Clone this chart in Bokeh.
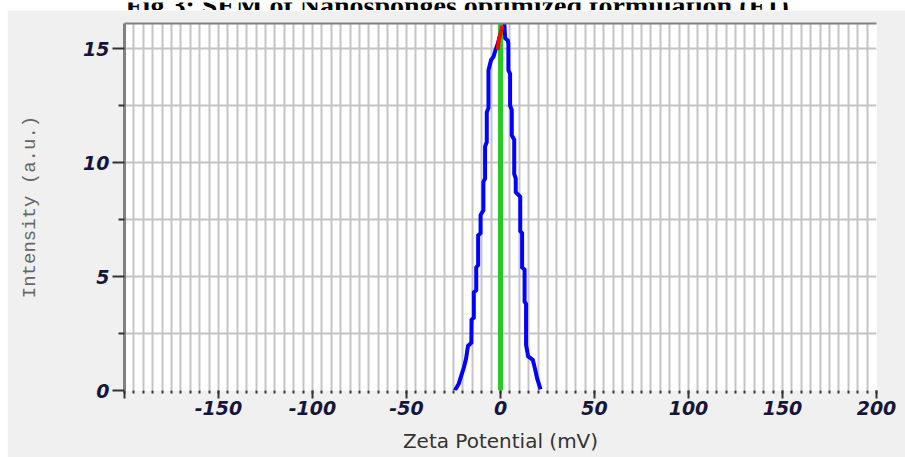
from bokeh.plotting import figure
from bokeh.models import Range1d, FixedTicker, LinearAxis, Label
from bokeh.layouts import column
from bokeh.embed import file_html
from bokeh.resources import INLINE

# ---------------- data ----------------
curve_x = [-24.3, -22.2, -20.7, -19.5, -18.3, -17.3, -15.5, -15.4, -14.2, -14.2,
           -12.9, -12.9, -11.9, -11.9, -10.6, -10.6, -9.1, -9.1, -8.2, -8.2,
           -7.3, -7.3, -6.4, -6.4, -5.0, -3.7, -2.8, -1.1, 1.0, 2.1,
           2.5, 3.9, 4.2, 4.2, 5.1, 5.1, 6.0, 6.0, 7.3, 7.3,
           8.1, 8.1, 10.5, 10.5, 11.5, 11.5, 12.8, 12.8, 13.6, 13.6,
           14.7, 17.2, 18.3, 19.5, 21.3]
curve_y = [0.0, 0.3, 0.7, 1.0, 1.4, 1.95, 2.1, 3.1, 3.2, 4.3,
           4.4, 5.4, 5.5, 6.8, 6.9, 7.7, 7.9, 9.15, 9.3, 10.7,
           10.9, 12.2, 12.4, 14.05, 14.5, 14.65, 14.9, 15.3, 16.0, 16.0,
           15.45, 15.35, 15.2, 14.05, 13.9, 12.5, 12.3, 11.2, 11.0, 9.5,
           9.3, 8.7, 8.5, 7.0, 6.9, 5.4, 5.3, 3.9, 3.8, 2.0,
           1.5, 1.34, 0.97, 0.53, 0.05]
peak_x = [-1.4, -1.1, 1.0]
peak_y = [14.95, 15.3, 16.0]
zero_x = [0, 0]
zero_y = [0, 16.1]

x_ticks = [-200, -150, -100, -50, 0, 50, 100, 150, 200]
x_tick_labels = ["", "-150", "-100", "-50", "0", "50", "100", "150", "200"]
x_minor_ticks = list(range(-200, 201, 5))
y_ticks = [0, 5, 10, 15]
y_tick_labels = ["0", "5", "10", "15"]
y_minor_ticks = [2.5, 7.5, 12.5]
y_grid_ticks = [2.5, 5, 7.5, 10, 12.5, 15]

title_text = "Fig.3:  SEM of Nanosponges optimized formulation (F1)"
x_label = "Zeta Potential (mV)"
y_label = "Intensity (a.u.)"

# ---------------- title strip (same borders as the chart, so frames align) ----------------
tfig = figure(frame_width=752, frame_height=10,
              x_range=Range1d(117, 869), y_range=Range1d(0, 10),
              x_axis_type=None, y_axis_type=None, toolbar_location=None,
              output_backend="svg",
              min_border_left=117, min_border_right=29,
              min_border_top=0, min_border_bottom=0)
tfig.outline_line_color = None
tfig.background_fill_color = "white"
tfig.border_fill_color = "white"
tfig.xgrid.visible = False
tfig.ygrid.visible = False
tfig.add_layout(Label(x=125, y=7, text=title_text, text_align="left",
                      text_baseline="alphabetic", text_font="Liberation Serif",
                      text_font_style="bold", text_font_size="28px",
                      text_color="#000000"))

# ---------------- main chart ----------------
p = figure(frame_width=752, frame_height=367,
           x_range=Range1d(-200, 200), y_range=Range1d(0, 16.1),
           toolbar_location=None, output_backend="svg",
           min_border_left=117, min_border_right=29,
           min_border_top=13, min_border_bottom=67,
           margin=(0, 0, 0, 7))
p.background_fill_color = "white"
p.border_fill_color = "#f0f0f0"
p.outline_line_color = None

tick_font = "DejaVu Sans"
tick_color = "#16163a"

xa = p.xaxis[0]
xa.ticker = FixedTicker(ticks=x_ticks, minor_ticks=x_minor_ticks)
xa.major_label_overrides = dict(zip(x_ticks, x_tick_labels))
xa.axis_line_color = None
xa.major_tick_in = 0
xa.major_tick_out = 8
xa.minor_tick_in = 0
xa.minor_tick_out = 3
xa.major_tick_line_color = "#333333"
xa.major_tick_line_width = 2
xa.minor_tick_line_color = "#333333"
xa.minor_tick_line_width = 2
xa.major_label_text_font = tick_font
xa.major_label_text_font_style = "bold italic"
xa.major_label_text_font_size = "19px"
xa.major_label_text_color = tick_color
xa.major_label_standoff = 2
xa.axis_label = x_label
xa.axis_label_text_font = "DejaVu Sans"
xa.axis_label_text_font_style = "normal"
xa.axis_label_text_font_size = "20px"
xa.axis_label_text_color = "#333333"
xa.axis_label_standoff = 11

ya = p.yaxis[0]
ya.ticker = FixedTicker(ticks=y_ticks, minor_ticks=y_minor_ticks)
ya.major_label_overrides = dict(zip(y_ticks, y_tick_labels))
ya.axis_line_color = "#808080"
ya.axis_line_width = 3
ya.major_tick_in = 0
ya.major_tick_out = 12
ya.minor_tick_in = 0
ya.minor_tick_out = 6
ya.major_tick_line_color = "#333333"
ya.major_tick_line_width = 2
ya.minor_tick_line_color = "#333333"
ya.minor_tick_line_width = 2
ya.major_label_text_font = tick_font
ya.major_label_text_font_style = "bold italic"
ya.major_label_text_font_size = "19px"
ya.major_label_text_color = tick_color
ya.major_label_standoff = 3
ya.axis_label = y_label
ya.axis_label_text_font = "Liberation Mono"
ya.axis_label_text_font_style = "normal"
ya.axis_label_text_font_size = "19px"
ya.axis_label_text_color = "#666666"
ya.axis_label_standoff = 39

top = LinearAxis(ticker=FixedTicker(ticks=[]), axis_line_color="#808080",
                 axis_line_width=2, major_tick_line_color=None,
                 minor_tick_line_color=None, major_label_text_font_size="0px")
p.add_layout(top, "above")

p.xgrid.ticker = FixedTicker(ticks=x_minor_ticks)
p.xgrid.grid_line_color = "#c4c4c4"
p.xgrid.grid_line_width = 2
p.ygrid.ticker = FixedTicker(ticks=y_grid_ticks)
p.ygrid.grid_line_color = "#c4c4c4"
p.ygrid.grid_line_width = 2

p.line(curve_x, curve_y, line_color="#0000ff", line_width=4, line_join="miter")
p.line(zero_x, zero_y, line_color="#22cc22", line_width=5)
p.line(peak_x, peak_y, line_color="#ff0000", line_width=4)

layout = column(tfig, p, spacing=0)
open("out.html", "w").write(file_html(layout, INLINE))
